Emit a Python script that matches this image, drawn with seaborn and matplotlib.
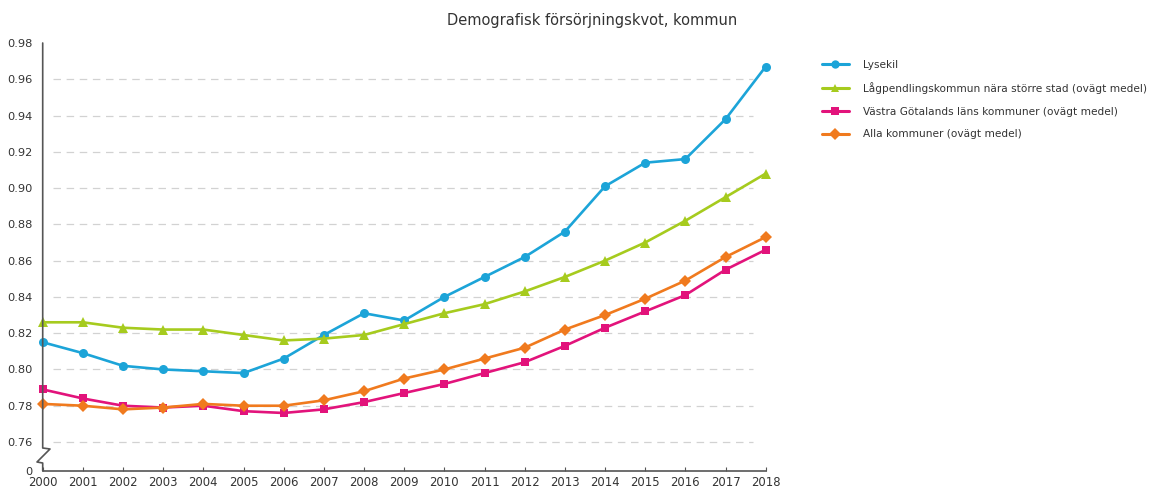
import numpy as np
import pandas as pd
import matplotlib
matplotlib.use("Agg")
import matplotlib.pyplot as plt
import seaborn as sns

years = list(range(2000, 2019))
lysekil = [0.815, 0.809, 0.802, 0.800, 0.799, 0.798, 0.806, 0.819, 0.831, 0.827,
           0.840, 0.851, 0.862, 0.876, 0.901, 0.914, 0.916, 0.938, 0.967]
lagpendling = [0.826, 0.826, 0.823, 0.822, 0.822, 0.819, 0.816, 0.817, 0.819, 0.825,
               0.831, 0.836, 0.843, 0.851, 0.860, 0.870, 0.882, 0.895, 0.908]
vastra = [0.789, 0.784, 0.780, 0.779, 0.780, 0.777, 0.776, 0.778, 0.782, 0.787,
          0.792, 0.798, 0.804, 0.813, 0.823, 0.832, 0.841, 0.855, 0.866]
alla = [0.781, 0.780, 0.778, 0.779, 0.781, 0.780, 0.780, 0.783, 0.788, 0.795,
        0.800, 0.806, 0.812, 0.822, 0.830, 0.839, 0.849, 0.862, 0.873]

series_names = ["Lysekil",
                "Lågpendlingskommun nära större stad (ovägt medel)",
                "Västra Götalands läns kommuner (ovägt medel)",
                "Alla kommuner (ovägt medel)"]
colors = ["#1ca4d8", "#a6cb1e", "#e2137b", "#f07a1e"]
markers = ["o", "^", "s", "D"]

ytick_vals = [0.76, 0.78, 0.80, 0.82, 0.84, 0.86, 0.88, 0.90, 0.92, 0.94, 0.96, 0.98]
ytick_labels = ["0.76", "0.78", "0.80", "0.82", "0.84", "0.86", "0.88", "0.90",
                "0.92", "0.94", "0.96", "0.98"]
title = "Demografisk försörjningskvot, kommun"

df = pd.DataFrame({
    "År": years * 4,
    "Värde": lysekil + lagpendling + vastra + alla,
    "Serie": sum([[n] * len(years) for n in series_names], []),
})

sns.set_theme(style="white")
plt.rcParams["font.family"] = ["DejaVu Sans"]

W, H = 1170, 494
fig = plt.figure(figsize=(W / 100, H / 100), dpi=100)
ax_l, ax_r, ax_t, ax_b = 42.7, 765.7, 43, 470.7
ax = fig.add_axes([ax_l / W, 1 - ax_b / H, (ax_r - ax_l) / W, (ax_b - ax_t) / H])
ax_wpx, ax_hpx = ax_r - ax_l, ax_b - ax_t

sns.lineplot(data=df, x="År", y="Värde", hue="Serie", style="Serie",
             hue_order=series_names, style_order=series_names,
             palette=dict(zip(series_names, colors)),
             markers=dict(zip(series_names, markers)),
             dashes=False, linewidth=1.9, markersize=6.5,
             markeredgewidth=0, ax=ax, legend=True, clip_on=False)
for ln in ax.lines:
    if ln.get_marker() == "D":
        ln.set_markersize(5.8)
    if ln.get_marker() == "s":
        ln.set_markersize(6.0)

# y-axis scaling with break: bottom of axis shown as "0"
px_per_unit = (442 - 43) / (0.98 - 0.76)
y_bottom = 0.76 - (ax_b - 442) / px_per_unit
ax.set_ylim(y_bottom, 0.98)
ax.set_xlim(years[0], years[-1])

ax.set_yticks([y_bottom] + ytick_vals)
ax.set_yticklabels(["0"] + ytick_labels)
ax.set_xticks(years)
ax.set_xticklabels([str(y) for y in years])
ax.tick_params(axis="y", length=0, pad=7, labelsize=8.2, labelcolor="#333333")
ax.tick_params(axis="x", direction="in", length=3, width=0.8, color="#555555",
               pad=4, labelsize=8.4, labelcolor="#333333", bottom=True)
ax.set_xlabel("")
ax.set_ylabel("")

# dashed gridlines
for v in ytick_vals[:-1]:
    ax.axhline(v, xmin=10 / ax_wpx, xmax=1 - 13 / ax_wpx, color="#d2d2d2",
               linewidth=0.9, dashes=(6, 4.5), zorder=0)

for s in ["top", "right", "left"]:
    ax.spines[s].set_visible(False)
ax.spines["bottom"].set_color("#555555")
ax.spines["bottom"].set_linewidth(1.2)

# left spine with axis break zigzag (pixel offsets from axes corner)
zx = np.array([0, 0, 7.3, -5.7, 0, 0]) / ax_wpx
zy = np.array([ax_hpx, 22.7, 21.7, 8.7, 7.7, 0]) / ax_hpx
ax.plot(zx, zy, transform=ax.transAxes, color="#555555", linewidth=1.2,
        clip_on=False, zorder=3)

# legend
handles, labels = ax.get_legend_handles_labels()
ax.get_legend().remove()
for h in handles:
    h.set_markersize(6)
    h.set_linewidth(2.2)
fig.legend(handles, labels, loc="upper left",
           bbox_to_anchor=(812 / W, 1 - 50 / H), frameon=False,
           fontsize=7.6, handlelength=2.6, handletextpad=1.3,
           labelspacing=1.2, labelcolor="#333333")

fig.text(592 / W, 1 - 20 / H, title, ha="center", va="center",
         fontsize=10.5, color="#333333")

fig.savefig("out.png", dpi=100, facecolor="white")
